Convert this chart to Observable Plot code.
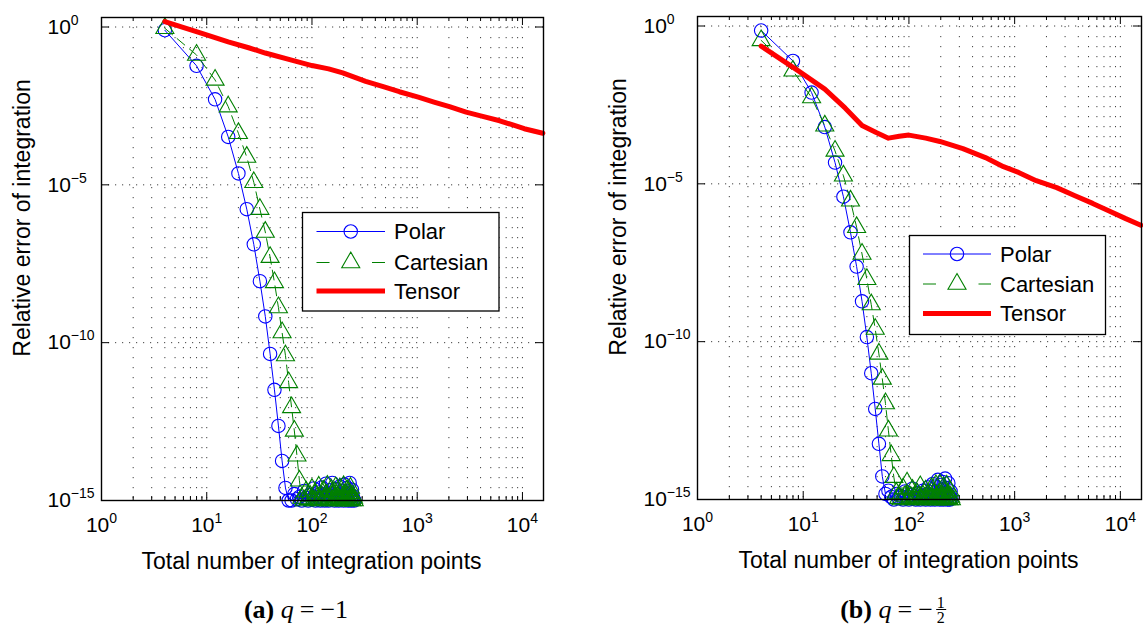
<!DOCTYPE html>
<html><head><meta charset="utf-8">
<script src="https://cdn.jsdelivr.net/npm/d3@7"></script>
<script src="https://cdn.jsdelivr.net/npm/@observablehq/plot@0.6"></script>
<style>
body{margin:0;background:#fff;}
#root{position:relative;width:1143px;height:625px;overflow:hidden;font-family:"Liberation Sans",Arial,sans-serif;background:#fff;}
.panel{position:absolute;top:0;}
.cap{position:absolute;top:595px;font-family:"Liberation Serif","Times New Roman",serif;font-size:26px;line-height:30px;color:#000;white-space:nowrap;transform:translateX(-50%);}
.cap i{font-style:italic;}
.cap .op{margin:0 6px;}
.frac{display:inline-flex;flex-direction:column;align-items:center;vertical-align:middle;font-size:16px;line-height:13px;margin-left:3px;position:relative;top:-2px;}
.frac .den{border-top:1px solid #000;padding:1px 1px 0 1px;}
</style></head>
<body>
<div id="root">
  <div id="pa" class="panel" style="left:0"></div>
  <div id="pb" class="panel" style="left:596px"></div>
  <div class="cap" style="left:296px"><b>(a)</b> <i>q</i><span class="op">=</span>−1</div>
  <div class="cap" style="left:893px"><b>(b)</b> <i>q</i><span class="op">=</span>−<span class="frac"><span>1</span><span class="den">2</span></span></div>
</div>
<script>
// ---------- tick values ----------
const xMajorTicks = [1, 10, 100, 1000, 10000];
const xMinorTicks = [2,3,4,5,6,7,8,9,20,30,40,50,60,70,80,90,200,300,400,500,600,700,800,900,2000,3000,4000,5000,6000,7000,8000,9000];
const yMajorTicks = [1e0, 1e-5, 1e-10, 1e-15];
const seriesNames = ["Polar", "Cartesian", "Tensor"];
const xLabel = "Total number of integration points";
const yLabel = "Relative error of integration";

// ---------- data: number of integration points ----------
const polarN = [4,8,12,16,20,24,28,32,36,40,44,48,52,56,60,64,68,72,76,80,84,88,92,96,100,104,108,112,116,120,124,128,132,136,140,144,148,152,156,160,164,168,172,176,180,184,188,192,196,200,204,208,212,216,220,224,228,232,236,240,244,248,252];
const cartN  = [4,8,12,16,20,24,28,32,36,40,44,48,52,56,60,64,68,72,76,80,84,88,92,96,100,104,108,112,116,120,124,128,132,136,140,144,148,152,156,160,164,168,172,176,180,184,188,192,196,200,204,208,212,216,220,224,228,232,236,240,244,248,252];

// ---------- panel (a) q = -1 ----------
const polarErrA = [7.9e-1,5.9e-2,5.1e-3,3.3e-4,2.3e-5,1.7e-6,1.3e-7,8.9e-9,6.8e-10,4.4e-11,3.2e-12,2.3e-13,1.8e-14,2.5e-15,1.0e-15,
  1.0e-15,1.6e-15,1.1e-15,1.3e-15,1.0e-15,2.0e-15,1.2e-15,1.0e-15,1.5e-15,1.1e-15,
  2.4e-15,1.0e-15,1.3e-15,1.8e-15,1.0e-15,2.6e-15,1.2e-15,1.0e-15,3.4e-15,1.4e-15,
  1.0e-15,2.1e-15,1.1e-15,3.6e-15,1.3e-15,1.0e-15,2.3e-15,1.2e-15,1.6e-15,1.0e-15,
  2.8e-15,1.1e-15,1.4e-15,2.0e-15,1.0e-15,3.2e-15,1.3e-15,1.1e-15,2.5e-15,1.0e-15,
  1.7e-15,3.6e-15,1.2e-15,1.0e-15,2.2e-15,1.4e-15,1.1e-15,1.0e-15];
const cartErrA = [9.1e-1,1.3e-1,2.1e-2,3.0e-3,4.3e-4,7.6e-5,1.2e-5,1.7e-6,3.2e-7,5.1e-8,8.1e-9,1.3e-9,2.1e-10,3.9e-11,5.5e-12,8.9e-13,1.6e-13,2.6e-14,4.2e-15,
  1.2e-15,1.0e-15,1.9e-15,1.1e-15,1.4e-15,2.3e-15,1.0e-15,1.6e-15,1.2e-15,2.7e-15,
  1.0e-15,1.3e-15,2.0e-15,1.1e-15,1.5e-15,2.9e-15,1.0e-15,1.2e-15,2.2e-15,1.4e-15,
  1.0e-15,1.8e-15,2.6e-15,1.1e-15,1.3e-15,1.0e-15,2.4e-15,1.6e-15,1.0e-15,1.2e-15,
  2.8e-15,1.1e-15,1.5e-15,1.0e-15,2.1e-15,1.3e-15,1.0e-15,1.7e-15,2.5e-15,1.1e-15,
  1.0e-15,1.4e-15,1.2e-15,1.0e-15];
const tensorNA   = [4,9,16,25,36,64,100,144,196,324,484,676,1024,1444,2025,2916,4096,6084,8100,10404,15625];
const tensorErrA = [1.48,0.63,0.34,0.22,0.15,0.089,0.060,0.047,0.035,0.019,0.0126,0.0089,0.0060,0.0042,0.0030,0.0020,0.0015,0.00107,0.00079,0.00060,0.00043];

// ---------- panel (b) q = -1/2 ----------
const polarErrB = [7.2e-1,7.8e-2,7.8e-3,6.3e-4,4.7e-5,3.9e-6,2.9e-7,2.4e-8,1.9e-9,1.4e-10,1.0e-11,7.4e-13,5.8e-14,5.4e-15,1.5e-15,
  1.9e-15,1.2e-15,1.0e-15,1.5e-15,1.1e-15,1.3e-15,1.0e-15,1.8e-15,1.2e-15,1.0e-15,
  1.4e-15,2.2e-15,1.1e-15,1.0e-15,1.6e-15,1.2e-15,1.0e-15,1.3e-15,1.9e-15,1.1e-15,
  1.0e-15,1.5e-15,2.4e-15,1.2e-15,1.0e-15,1.7e-15,3.1e-15,1.3e-15,1.0e-15,2.6e-15,
  1.1e-15,4.2e-15,1.4e-15,1.0e-15,2.9e-15,1.2e-15,3.6e-15,1.0e-15,1.6e-15,4.6e-15,
  1.1e-15,2.3e-15,1.0e-15,3.3e-15,1.3e-15,1.0e-15,1.8e-15,1.1e-15];
const cartErrB = [3.5e-1,3.8e-2,5.4e-3,6.9e-4,1.1e-4,1.8e-5,2.9e-6,4.2e-7,6.0e-8,9.5e-9,1.5e-9,2.5e-10,4.1e-11,6.6e-12,1.1e-12,1.5e-13,2.5e-14,5.1e-15,
  1.6e-15,1.1e-15,1.0e-15,2.2e-15,1.3e-15,3.4e-15,1.0e-15,1.2e-15,2.0e-15,1.1e-15,
  1.0e-15,1.5e-15,1.2e-15,2.6e-15,1.0e-15,1.3e-15,1.1e-15,1.9e-15,1.0e-15,1.4e-15,
  1.2e-15,1.0e-15,2.3e-15,1.1e-15,1.6e-15,1.0e-15,2.8e-15,1.2e-15,1.0e-15,1.5e-15,
  3.0e-15,1.1e-15,1.3e-15,1.0e-15,2.4e-15,1.2e-15,1.7e-15,1.0e-15,2.7e-15,1.1e-15,
  1.4e-15,1.0e-15,1.9e-15,1.2e-15,1.0e-15];
const tensorNB   = [4,9,16,25,36,49,64,81,100,144,196,324,529,784,1089,1600,2500,3721,5476,7744,11236,15625];
const tensorErrB = [0.23,0.038,0.010,0.0025,7.1e-4,4.2e-4,2.8e-4,3.2e-4,3.5e-4,2.8e-4,2.2e-4,1.3e-4,6.8e-5,3.5e-5,2.3e-5,1.26e-5,7.6e-6,4.2e-6,2.4e-6,1.4e-6,7.9e-7,4.9e-7];

// ---------- styling ----------
const BLUE = "#0000ff", GREEN = "#008000", RED = "#ff0000";
const FONT = "'Liberation Sans', Arial, Helvetica, sans-serif";
const X_DOMAIN = [1, 15849];
const Y_DOMAIN = [1e-15, 2];
const MARK_R = 6.7;

const zip = (xs, ys) => xs.map((x, i) => ({x, y: ys[i]}));
const fmt = d => { const e = Math.round(Math.log10(d)); return "10^" + (e < 0 ? "\u2212" + (-e) : String(e)); };

function drawPanel(el, cfg, polar, cart, tensor, leg) {
  const {width, height, mt, mr, mb, ml} = cfg;
  const ph = height - mt - mb, pw = width - ml - mr;
  const grid = {stroke: "#000", strokeOpacity: 0.75, strokeWidth: 1, strokeDasharray: "1.2,8.8"};
  const tick = {stroke: "#000", strokeWidth: 1};
  const svg = Plot.plot({
    width, height, marginTop: mt, marginRight: mr, marginBottom: mb, marginLeft: ml,
    x: {type: "log", domain: X_DOMAIN},
    y: {type: "log", domain: Y_DOMAIN},
    style: {fontFamily: FONT, fontSize: "21px", color: "#000", background: "transparent", overflow: "visible"},
    marks: [
      Plot.gridX([...xMajorTicks.slice(1), ...xMinorTicks], grid),
      Plot.gridY(yMajorTicks.slice(0, 3), {...grid, strokeDasharray: "1.2,5.8"}),
      Plot.ruleX(xMajorTicks, {...tick, insetTop: ph - 8}),
      Plot.ruleX(xMajorTicks, {...tick, insetBottom: ph - 8}),
      Plot.ruleX(xMinorTicks, {...tick, insetTop: ph - 4}),
      Plot.ruleX(xMinorTicks, {...tick, insetBottom: ph - 4}),
      Plot.ruleY(yMajorTicks, {...tick, insetRight: pw - 8}),
      Plot.ruleY(yMajorTicks, {...tick, insetLeft: pw - 8}),
      Plot.axisX(xMajorTicks, {tickSize: 0, tickPadding: 17, tickFormat: fmt, fontSize: 21, label: null}),
      Plot.axisY(yMajorTicks, {tickSize: 0, tickPadding: 54, textAnchor: "start", tickFormat: fmt, fontSize: 21, label: null}),
      Plot.line(polar, {x: "x", y: "y", stroke: BLUE, strokeWidth: 1}),
      Plot.dot(polar, {x: "x", y: "y", r: MARK_R, symbol: "circle", stroke: BLUE, strokeWidth: 1.1, fill: "none"}),
      Plot.line(cart, {x: "x", y: "y", stroke: GREEN, strokeWidth: 1, strokeDasharray: "10,6"}),
      Plot.dot(cart, {x: "x", y: "y", r: MARK_R, symbol: "triangle", stroke: GREEN, strokeWidth: 1.1, fill: "none"}),
      Plot.line(tensor, {x: "x", y: "y", stroke: RED, strokeWidth: 5}),
      Plot.frame({stroke: "#000", strokeWidth: 1.4}),
      Plot.text([yLabel], {text: d => d, frameAnchor: "left", textAnchor: "middle", lineAnchor: "middle", rotate: -90, dx: cfg.ylx, dy: cfg.yly, fontSize: 23}),
      Plot.text([xLabel], {text: d => d, frameAnchor: "bottom", textAnchor: "middle", lineAnchor: "middle", dx: cfg.xlx, dy: 61, fontSize: 23})
    ]
  });

  // superscript exponents on tick labels
  d3.select(svg).selectAll('g[aria-label="x-axis tick label"] text, g[aria-label="y-axis tick label"] text').each(function() {
    const s = this.textContent;
    const parts = s.split("^");
    if (parts.length !== 2) return;
    const t = d3.select(this);
    t.text(null);
    t.append("tspan").text(parts[0]);
    t.append("tspan").attr("font-size", "14px").attr("dy", "-9").text(parts[1]);
  });

  // legend box
  const g = d3.select(svg).append("g").attr("font-family", FONT).attr("font-size", 22).attr("text-anchor", "start");
  g.append("rect").attr("x", leg.x).attr("y", leg.y).attr("width", leg.w).attr("height", leg.h)
    .attr("fill", "#fff").attr("stroke", "#000").attr("stroke-width", 1.3);
  const styles = [
    {stroke: BLUE, sw: 1, dash: null, sym: d3.symbolCircle},
    {stroke: GREEN, sw: 1, dash: "13,42.5", sym: d3.symbolTriangle},
    {stroke: RED, sw: 5, dash: null, sym: null}
  ];
  seriesNames.forEach((name, i) => {
    const y = leg.rows[i], st = styles[i];
    const ln = g.append("line").attr("x1", leg.l0).attr("x2", leg.l1).attr("y1", y).attr("y2", y)
      .attr("stroke", st.stroke).attr("stroke-width", st.sw);
    if (st.dash) ln.attr("stroke-dasharray", st.dash);
    if (st.sym) {
      g.append("path").attr("d", d3.symbol(st.sym, Math.PI * MARK_R * MARK_R)())
        .attr("transform", `translate(${(leg.l0 + leg.l1) / 2},${y})`)
        .attr("fill", "none").attr("stroke", st.stroke).attr("stroke-width", 1.1);
    }
    g.append("text").attr("x", leg.tx).attr("y", y).attr("dy", "0.35em").attr("fill", "#000").attr("text-anchor", "start").text(name);
  });
  el.appendChild(svg);
}

drawPanel(document.getElementById("pa"),
  {width: 560, height: 580, mt: 17, mr: 17, mb: 80, ml: 101, ylx: -79, yly: -41, xlx: -11},
  zip(polarN, polarErrA), zip(cartN, cartErrA), zip(tensorNA, tensorErrA),
  {x: 302.5, y: 212.5, w: 196.5, h: 98.5, rows: [231.5, 262.5, 291], l0: 316.5, l1: 385, tx: 394});

drawPanel(document.getElementById("pb"),
  {width: 547, height: 580, mt: 16, mr: 2, mb: 81, ml: 101, ylx: -79, yly: -41, xlx: -11},
  zip(polarN, polarErrB), zip(cartN, cartErrB), zip(tensorNB, tensorErrB),
  {x: 313.5, y: 235.5, w: 196, h: 99, rows: [254, 284, 313.5], l0: 327, l1: 395, tx: 404});
</script>
</body></html>
